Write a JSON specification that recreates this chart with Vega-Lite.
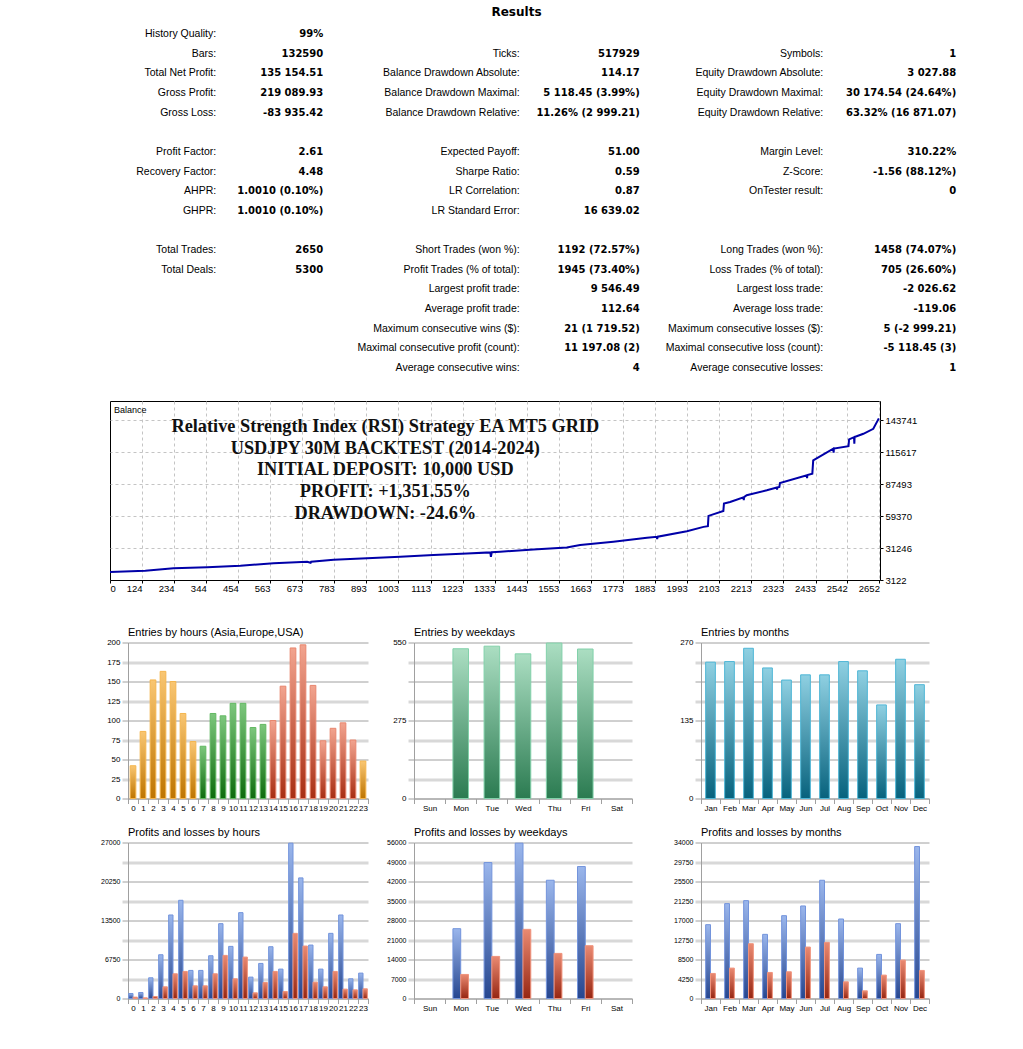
{
  "$schema": "https://vega.github.io/schema/vega-lite/v6.json",
  "background": "white",
  "padding": {"left": 0, "top": 6, "right": 0, "bottom": 0},
  "autosize": {"type": "pad"},
  "config": {
    "view": {"stroke": null},
    "font": "Liberation Sans",
    "axis": {"labelFont": "Liberation Sans", "titleFont": "Liberation Sans", "labelColor": "#000", "title": null},
    "title": {"font": "Liberation Sans", "color": "#000"}
  },
  "datasets": {
    "stats": [
      {"row": 0, "col": 1, "label": "History Quality:", "value": "99%"},
      {"row": 1, "col": 1, "label": "Bars:", "value": "132590"},
      {"row": 1, "col": 2, "label": "Ticks:", "value": "517929"},
      {"row": 1, "col": 3, "label": "Symbols:", "value": "1"},
      {"row": 2, "col": 1, "label": "Total Net Profit:", "value": "135 154.51"},
      {"row": 2, "col": 2, "label": "Balance Drawdown Absolute:", "value": "114.17"},
      {"row": 2, "col": 3, "label": "Equity Drawdown Absolute:", "value": "3 027.88"},
      {"row": 3, "col": 1, "label": "Gross Profit:", "value": "219 089.93"},
      {"row": 3, "col": 2, "label": "Balance Drawdown Maximal:", "value": "5 118.45 (3.99%)"},
      {"row": 3, "col": 3, "label": "Equity Drawdown Maximal:", "value": "30 174.54 (24.64%)"},
      {"row": 4, "col": 1, "label": "Gross Loss:", "value": "-83 935.42"},
      {"row": 4, "col": 2, "label": "Balance Drawdown Relative:", "value": "11.26% (2 999.21)"},
      {"row": 4, "col": 3, "label": "Equity Drawdown Relative:", "value": "63.32% (16 871.07)"},
      {"row": 6, "col": 1, "label": "Profit Factor:", "value": "2.61"},
      {"row": 6, "col": 2, "label": "Expected Payoff:", "value": "51.00"},
      {"row": 6, "col": 3, "label": "Margin Level:", "value": "310.22%"},
      {"row": 7, "col": 1, "label": "Recovery Factor:", "value": "4.48"},
      {"row": 7, "col": 2, "label": "Sharpe Ratio:", "value": "0.59"},
      {"row": 7, "col": 3, "label": "Z-Score:", "value": "-1.56 (88.12%)"},
      {"row": 8, "col": 1, "label": "AHPR:", "value": "1.0010 (0.10%)"},
      {"row": 8, "col": 2, "label": "LR Correlation:", "value": "0.87"},
      {"row": 8, "col": 3, "label": "OnTester result:", "value": "0"},
      {"row": 9, "col": 1, "label": "GHPR:", "value": "1.0010 (0.10%)"},
      {"row": 9, "col": 2, "label": "LR Standard Error:", "value": "16 639.02"},
      {"row": 11, "col": 1, "label": "Total Trades:", "value": "2650"},
      {"row": 11, "col": 2, "label": "Short Trades (won %):", "value": "1192 (72.57%)"},
      {"row": 11, "col": 3, "label": "Long Trades (won %):", "value": "1458 (74.07%)"},
      {"row": 12, "col": 1, "label": "Total Deals:", "value": "5300"},
      {"row": 12, "col": 2, "label": "Profit Trades (% of total):", "value": "1945 (73.40%)"},
      {"row": 12, "col": 3, "label": "Loss Trades (% of total):", "value": "705 (26.60%)"},
      {"row": 13, "col": 2, "label": "Largest profit trade:", "value": "9 546.49"},
      {"row": 13, "col": 3, "label": "Largest loss trade:", "value": "-2 026.62"},
      {"row": 14, "col": 2, "label": "Average profit trade:", "value": "112.64"},
      {"row": 14, "col": 3, "label": "Average loss trade:", "value": "-119.06"},
      {"row": 15, "col": 2, "label": "Maximum consecutive wins ($):", "value": "21 (1 719.52)"},
      {"row": 15, "col": 3, "label": "Maximum consecutive losses ($):", "value": "5 (-2 999.21)"},
      {"row": 16, "col": 2, "label": "Maximal consecutive profit (count):", "value": "11 197.08 (2)"},
      {"row": 16, "col": 3, "label": "Maximal consecutive loss (count):", "value": "-5 118.45 (3)"},
      {"row": 17, "col": 2, "label": "Average consecutive wins:", "value": "4"},
      {"row": 17, "col": 3, "label": "Average consecutive losses:", "value": "1"}
    ],
    "balance": [
      {"trade": 0, "balance": 10000}, {"trade": 135, "balance": 11270}, {"trade": 232, "balance": 13372},
      {"trade": 347, "balance": 14248}, {"trade": 461, "balance": 15650}, {"trade": 575, "balance": 17753},
      {"trade": 690, "balance": 19155}, {"trade": 702, "balance": 18300}, {"trade": 704, "balance": 19250},
      {"trade": 781, "balance": 20907}, {"trade": 895, "balance": 22133}, {"trade": 1009, "balance": 23535},
      {"trade": 1123, "balance": 25024}, {"trade": 1238, "balance": 26514}, {"trade": 1318, "balance": 27390},
      {"trade": 1320, "balance": 23535}, {"trade": 1323, "balance": 27450}, {"trade": 1352, "balance": 27915},
      {"trade": 1466, "balance": 30018}, {"trade": 1580, "balance": 31770}, {"trade": 1626, "balance": 33786},
      {"trade": 1740, "balance": 36677}, {"trade": 1855, "balance": 40181}, {"trade": 1889, "balance": 41057},
      {"trade": 1890, "balance": 39042}, {"trade": 1892, "balance": 41150}, {"trade": 1992, "balance": 46051},
      {"trade": 2049, "balance": 49818}, {"trade": 2064, "balance": 50431}, {"trade": 2066, "balance": 59455},
      {"trade": 2117, "balance": 63836}, {"trade": 2119, "balance": 70319}, {"trade": 2140, "balance": 71721},
      {"trade": 2186, "balance": 75838}, {"trade": 2187, "balance": 73210}, {"trade": 2188, "balance": 75950},
      {"trade": 2197, "balance": 77591}, {"trade": 2266, "balance": 81971}, {"trade": 2300, "balance": 84337},
      {"trade": 2301, "balance": 82585}, {"trade": 2302, "balance": 84450}, {"trade": 2309, "balance": 84862},
      {"trade": 2311, "balance": 88367}, {"trade": 2403, "balance": 95113}, {"trade": 2404, "balance": 92748},
      {"trade": 2405, "balance": 95300}, {"trade": 2422, "balance": 96602}, {"trade": 2425, "balance": 108254},
      {"trade": 2494, "balance": 118504}, {"trade": 2495, "balance": 115000}, {"trade": 2496, "balance": 118600},
      {"trade": 2546, "balance": 120782}, {"trade": 2548, "balance": 126652}, {"trade": 2565, "balance": 128667},
      {"trade": 2566, "balance": 122887}, {"trade": 2567, "balance": 128800}, {"trade": 2597, "balance": 131644},
      {"trade": 2631, "balance": 136025}, {"trade": 2650, "balance": 145154}
    ],
    "hours": [
      {"hour": 0, "n": 42, "s": "Asia"}, {"hour": 1, "n": 86, "s": "Asia"}, {"hour": 2, "n": 152, "s": "Asia"},
      {"hour": 3, "n": 163, "s": "Asia"}, {"hour": 4, "n": 150, "s": "Asia"}, {"hour": 5, "n": 109, "s": "Asia"},
      {"hour": 6, "n": 73, "s": "Asia"}, {"hour": 7, "n": 67, "s": "Europe"}, {"hour": 8, "n": 109, "s": "Europe"},
      {"hour": 9, "n": 106, "s": "Europe"}, {"hour": 10, "n": 122, "s": "Europe"}, {"hour": 11, "n": 122, "s": "Europe"},
      {"hour": 12, "n": 91, "s": "Europe"}, {"hour": 13, "n": 95, "s": "Europe"}, {"hour": 14, "n": 100, "s": "USA"},
      {"hour": 15, "n": 144, "s": "USA"}, {"hour": 16, "n": 193, "s": "USA"}, {"hour": 17, "n": 197, "s": "USA"},
      {"hour": 18, "n": 145, "s": "USA"}, {"hour": 19, "n": 74, "s": "USA"}, {"hour": 20, "n": 90, "s": "USA"},
      {"hour": 21, "n": 97, "s": "USA"}, {"hour": 22, "n": 75, "s": "USA"}, {"hour": 23, "n": 48, "s": "Asia"}
    ],
    "wd": [
      {"day": "Mon", "n": 528}, {"day": "Tue", "n": 537}, {"day": "Wed", "n": 510}, {"day": "Thu", "n": 548}, {"day": "Fri", "n": 527}
    ],
    "mo": [
      {"m": "Jan", "n": 236}, {"m": "Feb", "n": 237}, {"m": "Mar", "n": 260}, {"m": "Apr", "n": 226},
      {"m": "May", "n": 205}, {"m": "Jun", "n": 214}, {"m": "Jul", "n": 214}, {"m": "Aug", "n": 237},
      {"m": "Sep", "n": 221}, {"m": "Oct", "n": 162}, {"m": "Nov", "n": 241}, {"m": "Dec", "n": 197}
    ],
    "plh": [
      {"hour": 0, "kind": "Profit", "v": 867}, {"hour": 0, "kind": "Loss", "v": 231},
      {"hour": 1, "kind": "Profit", "v": 1040}, {"hour": 1, "kind": "Loss", "v": 116},
      {"hour": 2, "kind": "Profit", "v": 3585}, {"hour": 2, "kind": "Loss", "v": 347},
      {"hour": 3, "kind": "Profit", "v": 7574}, {"hour": 3, "kind": "Loss", "v": 2024},
      {"hour": 4, "kind": "Profit", "v": 14455}, {"hour": 4, "kind": "Loss", "v": 4279},
      {"hour": 5, "kind": "Profit", "v": 16999}, {"hour": 5, "kind": "Loss", "v": 4683},
      {"hour": 6, "kind": "Profit", "v": 4857}, {"hour": 6, "kind": "Loss", "v": 2197},
      {"hour": 7, "kind": "Profit", "v": 4857}, {"hour": 7, "kind": "Loss", "v": 2197},
      {"hour": 8, "kind": "Profit", "v": 7401}, {"hour": 8, "kind": "Loss", "v": 4279},
      {"hour": 9, "kind": "Profit", "v": 12952}, {"hour": 9, "kind": "Loss", "v": 7459},
      {"hour": 10, "kind": "Profit", "v": 9020}, {"hour": 10, "kind": "Loss", "v": 3411},
      {"hour": 11, "kind": "Profit", "v": 14860}, {"hour": 11, "kind": "Loss", "v": 7170},
      {"hour": 12, "kind": "Profit", "v": 3700}, {"hour": 12, "kind": "Loss", "v": 983},
      {"hour": 13, "kind": "Profit", "v": 6071}, {"hour": 13, "kind": "Loss", "v": 2775},
      {"hour": 14, "kind": "Profit", "v": 8962}, {"hour": 14, "kind": "Loss", "v": 4683},
      {"hour": 15, "kind": "Profit", "v": 5088}, {"hour": 15, "kind": "Loss", "v": 1214},
      {"hour": 16, "kind": "Profit", "v": 26886}, {"hour": 16, "kind": "Loss", "v": 11275},
      {"hour": 17, "kind": "Profit", "v": 20873}, {"hour": 17, "kind": "Loss", "v": 9078},
      {"hour": 18, "kind": "Profit", "v": 9251}, {"hour": 18, "kind": "Loss", "v": 2833},
      {"hour": 19, "kind": "Profit", "v": 5088}, {"hour": 19, "kind": "Loss", "v": 2024},
      {"hour": 20, "kind": "Profit", "v": 11275}, {"hour": 20, "kind": "Loss", "v": 4683},
      {"hour": 21, "kind": "Profit", "v": 14455}, {"hour": 21, "kind": "Loss", "v": 1619},
      {"hour": 22, "kind": "Profit", "v": 3411}, {"hour": 22, "kind": "Loss", "v": 1503},
      {"hour": 23, "kind": "Profit", "v": 4394}, {"hour": 23, "kind": "Loss", "v": 1677}
    ],
    "plwd": [
      {"day": "Mon", "kind": "Profit", "v": 25060}, {"day": "Mon", "kind": "Loss", "v": 8633},
      {"day": "Tue", "kind": "Profit", "v": 48800}, {"day": "Tue", "kind": "Loss", "v": 15110},
      {"day": "Wed", "kind": "Profit", "v": 55760}, {"day": "Wed", "kind": "Loss", "v": 24820},
      {"day": "Thu", "kind": "Profit", "v": 42450}, {"day": "Thu", "kind": "Loss", "v": 16190},
      {"day": "Fri", "kind": "Profit", "v": 47370}, {"day": "Fri", "kind": "Loss", "v": 18950}
    ],
    "plmo": [
      {"m": "Jan", "kind": "Profit", "v": 16090}, {"m": "Jan", "kind": "Loss", "v": 5460},
      {"m": "Feb", "kind": "Profit", "v": 20680}, {"m": "Feb", "kind": "Loss", "v": 6625},
      {"m": "Mar", "kind": "Profit", "v": 21330}, {"m": "Mar", "kind": "Loss", "v": 11940},
      {"m": "Apr", "kind": "Profit", "v": 13980}, {"m": "Apr", "kind": "Loss", "v": 5680},
      {"m": "May", "kind": "Profit", "v": 18050}, {"m": "May", "kind": "Loss", "v": 5824},
      {"m": "Jun", "kind": "Profit", "v": 20170}, {"m": "Jun", "kind": "Loss", "v": 11210},
      {"m": "Jul", "kind": "Profit", "v": 25770}, {"m": "Jul", "kind": "Loss", "v": 12230},
      {"m": "Aug", "kind": "Profit", "v": 17330}, {"m": "Aug", "kind": "Loss", "v": 3640},
      {"m": "Sep", "kind": "Profit", "v": 6625}, {"m": "Sep", "kind": "Loss", "v": 1674},
      {"m": "Oct", "kind": "Profit", "v": 9610}, {"m": "Oct", "kind": "Loss", "v": 5096},
      {"m": "Nov", "kind": "Profit", "v": 16310}, {"m": "Nov", "kind": "Loss", "v": 8372},
      {"m": "Dec", "kind": "Profit", "v": 33120}, {"m": "Dec", "kind": "Loss", "v": 6115}
    ]
  },
  "spacing": 33.5,
  "vconcat": [
    {
      "spacing": 9,
      "vconcat": [
        {
          "width": 1023,
          "height": 370,
          "title": {"text": "Results", "font": "DejaVu Sans", "fontSize": 12, "fontWeight": "bold", "anchor": "middle", "offset": 2, "dx": 5},
          "data": {"name": "stats"},
          "resolve": {"scale": {"x": "independent"}},
          "encoding": {
            "y": {"field": "row", "type": "quantitative", "scale": {"domain": [-0.6616, 18.168], "reverse": true, "nice": false, "zero": false}, "axis": null}
          },
          "layer": [
            {
              "mark": {"type": "text", "align": "right", "baseline": "middle", "font": "Liberation Sans", "fontSize": 10.5, "color": "#000"},
              "encoding": {
                "x": {"field": "col", "type": "quantitative", "scale": {"domain": [0.2876, 3.6583], "nice": false, "zero": false}, "axis": null},
                "text": {"field": "label"}
              }
            },
            {
              "mark": {"type": "text", "align": "right", "baseline": "middle", "font": "DejaVu Sans", "fontSize": 10, "fontWeight": "bold", "color": "#000"},
              "encoding": {
                "x": {"field": "col", "type": "quantitative", "scale": {"domain": [-0.0212, 3.211], "nice": false, "zero": false}, "axis": null},
                "text": {"field": "value"}
              }
            }
          ]
        },
        {
          "columns": 2,
          "align": "each",
          "bounds": "flush",
          "spacing": 0,
          "concat": [
            {"width": 110, "height": 179, "data": {"values": []}, "mark": "point"},
            {
              "width": 770,
              "height": 179,
              "view": {"stroke": "#000", "strokeWidth": 1},
              "layer": [
                {
                  "data": {"name": "balance"},
                  "mark": {"type": "line", "color": "#0000a8", "strokeWidth": 2, "clip": true},
                  "encoding": {
                    "x": {
                      "field": "trade", "type": "quantitative",
                      "scale": {"domain": [14.1, 2654], "nice": false, "zero": false},
                      "axis": {
                        "values": [14.1, 124, 234, 344, 454, 563, 673, 783, 893, 1003, 1113, 1223, 1333, 1443, 1553, 1663, 1773, 1883, 1993, 2103, 2213, 2323, 2433, 2542, 2652],
                        "tickCount": 100,
                        "format": "d",
                        "labelExpr": "datum.value < 50 ? '0' : datum.label",
                        "labelAlign": {"condition": {"test": "datum.value < 50", "value": "left"}, "value": "right"},
                        "labelFontSize": 9.5, "labelPadding": 0, "labelFlush": false, "labelOverlap": false,
                        "tickSize": 3, "tickColor": "#000", "domain": false,
                        "grid": true, "gridColor": "#c4c4c4", "gridDash": [3, 3],
                        "gridOpacity": {"condition": {"test": "datum.value < 50", "value": 0}, "value": 1}
                      }
                    },
                    "y": {
                      "field": "balance", "type": "quantitative",
                      "scale": {"domain": [3122, 160450], "nice": false, "zero": false},
                      "axis": {
                        "orient": "right",
                        "values": [3122, 31246, 59370, 87493, 115617, 143741],
                        "tickCount": 100,
                        "format": "d",
                        "labelFontSize": 9.5, "labelPadding": 2, "labelFlush": false, "labelOverlap": false,
                        "tickSize": 3, "tickColor": "#000", "domain": false,
                        "grid": true, "gridColor": "#c4c4c4", "gridDash": [3, 3],
                        "gridOpacity": {"condition": {"test": "datum.value < 5000", "value": 0}, "value": 1}
                      }
                    }
                  }
                },
                {
                  "data": {"values": [{"note": "Balance"}]},
                  "mark": {"type": "text", "align": "left", "baseline": "middle", "fontSize": 9, "dx": 4, "font": "Liberation Sans", "color": "#000"},
                  "encoding": {"x": {"datum": 14.1}, "y": {"datum": 152500}, "text": {"field": "note"}}
                },
                {
                  "data": {"values": [{"note": "Relative Strength Index (RSI) Strategy EA MT5 GRID\nUSDJPY 30M BACKTEST (2014-2024)\nINITIAL DEPOSIT: 10,000 USD\nPROFIT: +1,351.55%\nDRAWDOWN: -24.6%"}]},
                  "mark": {"type": "text", "align": "center", "baseline": "top", "font": "Liberation Serif", "fontSize": 18.3, "fontWeight": "bold", "lineBreak": "\n", "lineHeight": 21.7, "color": "#111"},
                  "encoding": {"x": {"datum": 958}, "y": {"datum": 145500}, "text": {"field": "note"}}
                }
              ]
            }
          ]
        }
      ]
    },
    {
      "columns": 6,
      "align": "each",
      "bounds": "flush",
      "spacing": {"row": 44, "column": 0},
      "concat": [
        {"width": 128, "height": 156, "data": {"values": []}, "mark": "point"},
        {
          "width": 240, "height": 156,
          "title": {"text": "Entries by hours (Asia,Europe,USA)", "anchor": "start", "frame": "group", "fontSize": 11, "fontWeight": "normal", "offset": 1},
          "data": {"name": "hours"},
          "encoding": {
            "x": {"field": "hour", "type": "ordinal", "scale": {"domain": [0,1,2,3,4,5,6,7,8,9,10,11,12,13,14,15,16,17,18,19,20,21,22,23], "paddingInner": 0, "paddingOuter": 0},
              "axis": {"labelAngle": 0, "labelFontSize": 8, "labelPadding": 1, "tickBand": "extent", "tickSize": 5, "tickColor": "#a0a0a0", "domainColor": "#a0a0a0", "grid": false, "labelOverlap": false}},
            "y": {"field": "n", "type": "quantitative", "scale": {"domain": [0, 200], "nice": false},
              "axis": {"values": [0,25,50,75,100,125,150,175,200], "tickCount": 100, "format": "d", "grid": true,
                "gridColor": {"condition": {"test": "datum.value % 50 === 0", "value": "#a0a0a0"}, "value": "#d8d8d8"},
                "gridWidth": {"condition": {"test": "datum.value % 50 === 0", "value": 1}, "value": 3},
                "tickColor": {"condition": {"test": "datum.value % 50 === 0", "value": "#a0a0a0"}, "value": "#d8d8d8"},
                "tickWidth": {"condition": {"test": "datum.value % 50 === 0", "value": 1}, "value": 3},
                "tickSize": 6, "domainColor": "#a0a0a0", "labelFontSize": 8, "labelPadding": 2, "labelFlush": false, "labelOverlap": false}}
          },
          "layer": [
            {"transform": [{"filter": "datum.s === 'Asia'"}],
             "mark": {"type": "bar", "width": {"band": 0.57}, "stroke": "#f4b54e", "strokeWidth": 1,
               "fill": {"gradient": "linear", "x1": 0, "y1": 0, "x2": 0, "y2": 1, "stops": [{"offset": 0, "color": "#f9c672"}, {"offset": 1, "color": "#bd7400"}]}}},
            {"transform": [{"filter": "datum.s === 'Europe'"}],
             "mark": {"type": "bar", "width": {"band": 0.57}, "stroke": "#62b862", "strokeWidth": 1,
               "fill": {"gradient": "linear", "x1": 0, "y1": 0, "x2": 0, "y2": 1, "stops": [{"offset": 0, "color": "#7dc77d"}, {"offset": 1, "color": "#0d6b0d"}]}}},
            {"transform": [{"filter": "datum.s === 'USA'"}],
             "mark": {"type": "bar", "width": {"band": 0.57}, "stroke": "#e8866e", "strokeWidth": 1,
               "fill": {"gradient": "linear", "x1": 0, "y1": 0, "x2": 0, "y2": 1, "stops": [{"offset": 0, "color": "#f2a48f"}, {"offset": 1, "color": "#a72d12"}]}}}
          ]
        },
        {"width": 46, "height": 156, "data": {"values": []}, "mark": "point"},
        {
          "width": 218, "height": 156,
          "title": {"text": "Entries by weekdays", "anchor": "start", "frame": "group", "fontSize": 11, "fontWeight": "normal", "offset": 1},
          "data": {"name": "wd"},
          "mark": {"type": "bar", "width": {"band": 0.5}, "stroke": "#82d1aa", "strokeWidth": 1,
            "fill": {"gradient": "linear", "x1": 0, "y1": 0, "x2": 0, "y2": 1, "stops": [{"offset": 0, "color": "#abdec2"}, {"offset": 1, "color": "#2b7b51"}]}},
          "encoding": {
            "x": {"field": "day", "type": "nominal", "scale": {"domain": ["Sun","Mon","Tue","Wed","Thu","Fri","Sat"], "paddingInner": 0, "paddingOuter": 0},
              "axis": {"labelAngle": 0, "labelFontSize": 8, "labelPadding": 1, "tickBand": "extent", "tickSize": 5, "tickColor": "#a0a0a0", "domainColor": "#a0a0a0", "grid": false, "labelOverlap": false}},
            "y": {"field": "n", "type": "quantitative", "scale": {"domain": [0, 550], "nice": false},
              "axis": {"values": [0,68.75,137.5,206.25,275,343.75,412.5,481.25,550], "tickCount": 100, "format": "d",
                "labelExpr": "datum.value % 275 === 0 ? datum.label : ''", "grid": true,
                "gridColor": {"condition": {"test": "round(datum.value / 68.75) % 2 === 0", "value": "#a0a0a0"}, "value": "#d8d8d8"},
                "gridWidth": {"condition": {"test": "round(datum.value / 68.75) % 2 === 0", "value": 1}, "value": 3},
                "tickColor": {"condition": {"test": "round(datum.value / 68.75) % 2 === 0", "value": "#a0a0a0"}, "value": "#d8d8d8"},
                "tickWidth": {"condition": {"test": "round(datum.value / 68.75) % 2 === 0", "value": 1}, "value": 3},
                "tickSize": 6, "domainColor": "#a0a0a0", "labelFontSize": 8, "labelPadding": 2, "labelFlush": false, "labelOverlap": false}}
          }
        },
        {"width": 69, "height": 156, "data": {"values": []}, "mark": "point"},
        {
          "width": 228, "height": 156,
          "title": {"text": "Entries by months", "anchor": "start", "frame": "group", "fontSize": 11, "fontWeight": "normal", "offset": 1},
          "data": {"name": "mo"},
          "mark": {"type": "bar", "width": {"band": 0.51}, "stroke": "#4fb6d6", "strokeWidth": 1,
            "fill": {"gradient": "linear", "x1": 0, "y1": 0, "x2": 0, "y2": 1, "stops": [{"offset": 0, "color": "#8fd0e2"}, {"offset": 1, "color": "#07627d"}]}},
          "encoding": {
            "x": {"field": "m", "type": "nominal", "scale": {"domain": ["Jan","Feb","Mar","Apr","May","Jun","Jul","Aug","Sep","Oct","Nov","Dec"], "paddingInner": 0, "paddingOuter": 0},
              "axis": {"labelAngle": 0, "labelFontSize": 8, "labelPadding": 1, "tickBand": "extent", "tickSize": 5, "tickColor": "#a0a0a0", "domainColor": "#a0a0a0", "grid": false, "labelOverlap": false}},
            "y": {"field": "n", "type": "quantitative", "scale": {"domain": [0, 270], "nice": false},
              "axis": {"values": [0,33.75,67.5,101.25,135,168.75,202.5,236.25,270], "tickCount": 100, "format": "d",
                "labelExpr": "datum.value % 135 === 0 ? datum.label : ''", "grid": true,
                "gridColor": {"condition": {"test": "round(datum.value / 33.75) % 2 === 0", "value": "#a0a0a0"}, "value": "#d8d8d8"},
                "gridWidth": {"condition": {"test": "round(datum.value / 33.75) % 2 === 0", "value": 1}, "value": 3},
                "tickColor": {"condition": {"test": "round(datum.value / 33.75) % 2 === 0", "value": "#a0a0a0"}, "value": "#d8d8d8"},
                "tickWidth": {"condition": {"test": "round(datum.value / 33.75) % 2 === 0", "value": 1}, "value": 3},
                "tickSize": 6, "domainColor": "#a0a0a0", "labelFontSize": 8, "labelPadding": 2, "labelFlush": false, "labelOverlap": false}}
          }
        },
        {"width": 128, "height": 156, "data": {"values": []}, "mark": "point"},
        {
          "width": 240, "height": 156,
          "title": {"text": "Profits and losses by hours", "anchor": "start", "frame": "group", "fontSize": 11, "fontWeight": "normal", "offset": 1},
          "data": {"name": "plh"},
          "encoding": {
            "x": {"field": "hour", "type": "ordinal", "scale": {"domain": [0,1,2,3,4,5,6,7,8,9,10,11,12,13,14,15,16,17,18,19,20,21,22,23], "paddingInner": 0, "paddingOuter": 0},
              "axis": {"labelAngle": 0, "labelFontSize": 8, "labelPadding": 1, "tickBand": "extent", "tickSize": 5, "tickColor": "#a0a0a0", "domainColor": "#a0a0a0", "grid": false, "labelOverlap": false}},
            "y": {"field": "v", "type": "quantitative", "scale": {"domain": [0, 27000], "nice": false},
              "axis": {"values": [0,3375,6750,10125,13500,16875,20250,23625,27000], "tickCount": 100, "format": "d",
                "labelExpr": "datum.value % 6750 === 0 ? datum.label : ''", "grid": true,
                "gridColor": {"condition": {"test": "datum.value % 6750 === 0", "value": "#a0a0a0"}, "value": "#d8d8d8"},
                "gridWidth": {"condition": {"test": "datum.value % 6750 === 0", "value": 1}, "value": 3},
                "tickColor": {"condition": {"test": "datum.value % 6750 === 0", "value": "#a0a0a0"}, "value": "#d8d8d8"},
                "tickWidth": {"condition": {"test": "datum.value % 6750 === 0", "value": 1}, "value": 3},
                "tickSize": 6, "domainColor": "#a0a0a0", "labelFontSize": 7, "labelPadding": 2, "labelFlush": false, "labelOverlap": false}}
          },
          "layer": [
            {"transform": [{"filter": "datum.kind === 'Profit'"}],
             "mark": {"type": "bar", "width": {"band": 0.435}, "xOffset": -2.175, "stroke": "#7394dc", "strokeWidth": 1,
               "fill": {"gradient": "linear", "x1": 0, "y1": 0, "x2": 0, "y2": 1, "stops": [{"offset": 0, "color": "#9ab6ec"}, {"offset": 1, "color": "#26468f"}]}}},
            {"transform": [{"filter": "datum.kind === 'Loss'"}],
             "mark": {"type": "bar", "width": {"band": 0.435}, "xOffset": 2.175, "stroke": "#f0937c", "strokeWidth": 1,
               "fill": {"gradient": "linear", "x1": 0, "y1": 0, "x2": 0, "y2": 1, "stops": [{"offset": 0, "color": "#ea8a72"}, {"offset": 1, "color": "#962612"}]}}}
          ]
        },
        {"width": 46, "height": 156, "data": {"values": []}, "mark": "point"},
        {
          "width": 218, "height": 156,
          "title": {"text": "Profits and losses by weekdays", "anchor": "start", "frame": "group", "fontSize": 11, "fontWeight": "normal", "offset": 1},
          "data": {"name": "plwd"},
          "encoding": {
            "x": {"field": "day", "type": "nominal", "scale": {"domain": ["Sun","Mon","Tue","Wed","Thu","Fri","Sat"], "paddingInner": 0, "paddingOuter": 0},
              "axis": {"labelAngle": 0, "labelFontSize": 8, "labelPadding": 1, "tickBand": "extent", "tickSize": 5, "tickColor": "#a0a0a0", "domainColor": "#a0a0a0", "grid": false, "labelOverlap": false}},
            "y": {"field": "v", "type": "quantitative", "scale": {"domain": [0, 56000], "nice": false},
              "axis": {"values": [0,7000,14000,21000,28000,35000,42000,49000,56000], "tickCount": 100, "format": "d", "grid": true,
                "gridColor": {"condition": {"test": "datum.value % 14000 === 0", "value": "#a0a0a0"}, "value": "#d8d8d8"},
                "gridWidth": {"condition": {"test": "datum.value % 14000 === 0", "value": 1}, "value": 3},
                "tickColor": {"condition": {"test": "datum.value % 14000 === 0", "value": "#a0a0a0"}, "value": "#d8d8d8"},
                "tickWidth": {"condition": {"test": "datum.value % 14000 === 0", "value": 1}, "value": 3},
                "tickSize": 6, "domainColor": "#a0a0a0", "labelFontSize": 7, "labelPadding": 2, "labelFlush": false, "labelOverlap": false}}
          },
          "layer": [
            {"transform": [{"filter": "datum.kind === 'Profit'"}],
             "mark": {"type": "bar", "width": {"band": 0.25}, "xOffset": -3.89, "stroke": "#7394dc", "strokeWidth": 1,
               "fill": {"gradient": "linear", "x1": 0, "y1": 0, "x2": 0, "y2": 1, "stops": [{"offset": 0, "color": "#9ab6ec"}, {"offset": 1, "color": "#26468f"}]}}},
            {"transform": [{"filter": "datum.kind === 'Loss'"}],
             "mark": {"type": "bar", "width": {"band": 0.25}, "xOffset": 3.89, "stroke": "#f0937c", "strokeWidth": 1,
               "fill": {"gradient": "linear", "x1": 0, "y1": 0, "x2": 0, "y2": 1, "stops": [{"offset": 0, "color": "#ea8a72"}, {"offset": 1, "color": "#962612"}]}}}
          ]
        },
        {"width": 69, "height": 156, "data": {"values": []}, "mark": "point"},
        {
          "width": 228, "height": 156,
          "title": {"text": "Profits and losses by months", "anchor": "start", "frame": "group", "fontSize": 11, "fontWeight": "normal", "offset": 1},
          "data": {"name": "plmo"},
          "encoding": {
            "x": {"field": "m", "type": "nominal", "scale": {"domain": ["Jan","Feb","Mar","Apr","May","Jun","Jul","Aug","Sep","Oct","Nov","Dec"], "paddingInner": 0, "paddingOuter": 0},
              "axis": {"labelAngle": 0, "labelFontSize": 8, "labelPadding": 1, "tickBand": "extent", "tickSize": 5, "tickColor": "#a0a0a0", "domainColor": "#a0a0a0", "grid": false, "labelOverlap": false}},
            "y": {"field": "v", "type": "quantitative", "scale": {"domain": [0, 34000], "nice": false},
              "axis": {"values": [0,4250,8500,12750,17000,21250,25500,29750,34000], "tickCount": 100, "format": "d", "grid": true,
                "gridColor": {"condition": {"test": "datum.value % 8500 === 0", "value": "#a0a0a0"}, "value": "#d8d8d8"},
                "gridWidth": {"condition": {"test": "datum.value % 8500 === 0", "value": 1}, "value": 3},
                "tickColor": {"condition": {"test": "datum.value % 8500 === 0", "value": "#a0a0a0"}, "value": "#d8d8d8"},
                "tickWidth": {"condition": {"test": "datum.value % 8500 === 0", "value": 1}, "value": 3},
                "tickSize": 6, "domainColor": "#a0a0a0", "labelFontSize": 7, "labelPadding": 2, "labelFlush": false, "labelOverlap": false}}
          },
          "layer": [
            {"transform": [{"filter": "datum.kind === 'Profit'"}],
             "mark": {"type": "bar", "width": {"band": 0.255}, "xOffset": -2.42, "stroke": "#7394dc", "strokeWidth": 1,
               "fill": {"gradient": "linear", "x1": 0, "y1": 0, "x2": 0, "y2": 1, "stops": [{"offset": 0, "color": "#9ab6ec"}, {"offset": 1, "color": "#26468f"}]}}},
            {"transform": [{"filter": "datum.kind === 'Loss'"}],
             "mark": {"type": "bar", "width": {"band": 0.255}, "xOffset": 2.42, "stroke": "#f0937c", "strokeWidth": 1,
               "fill": {"gradient": "linear", "x1": 0, "y1": 0, "x2": 0, "y2": 1, "stops": [{"offset": 0, "color": "#ea8a72"}, {"offset": 1, "color": "#962612"}]}}}
          ]
        }
      ]
    }
  ]
}
